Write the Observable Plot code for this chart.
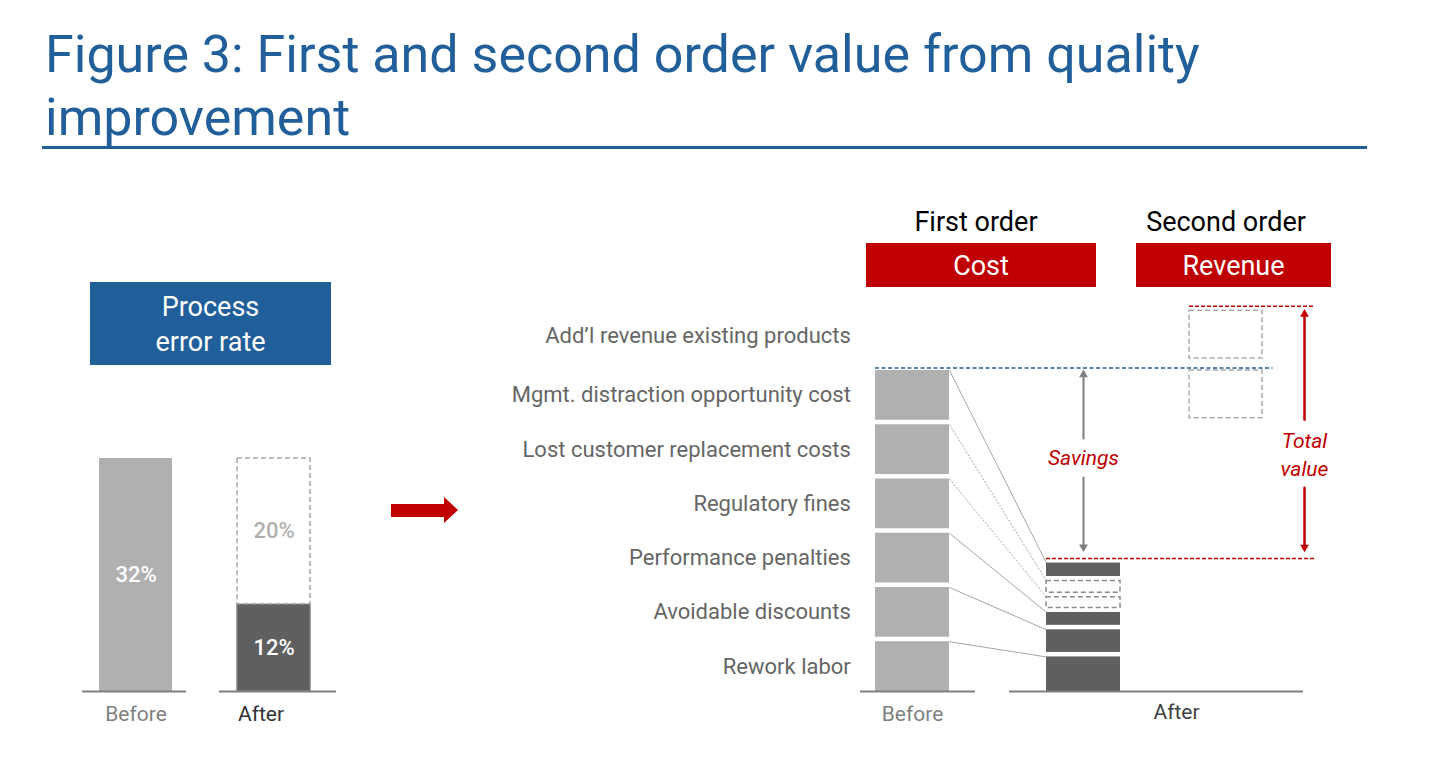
<!DOCTYPE html>
<html><head><meta charset="utf-8">
<script src="https://cdn.jsdelivr.net/npm/d3@7"></script>
<script src="https://cdn.jsdelivr.net/npm/@observablehq/plot@0.6"></script>
<style>
html,body{margin:0;padding:0;background:#fff;}
#page{position:relative;width:1442px;height:764px;overflow:hidden;font-family:Roboto,"Noto Sans",sans-serif;}
.abs{position:absolute;}
#title{left:45px;top:24px;color:#215F9A;font-size:50px;line-height:63px;font-weight:400;white-space:nowrap;}
#rule{left:42px;top:146px;width:1325px;height:3px;background:#215F9A;}
.box{display:flex;align-items:center;justify-content:center;text-align:center;color:#fff;font-size:27px;}
#errbox{left:90px;top:282px;width:241px;height:83px;background:#215F9A;line-height:35px;padding-top:3px;box-sizing:border-box;}
#costbox{left:866px;top:243px;width:230px;height:44px;background:#C00000;padding-top:1px;box-sizing:border-box;}
#revbox{left:1136px;top:243px;width:195px;height:44px;background:#C00000;padding-top:1px;box-sizing:border-box;}
.hdr{font-size:27px;color:#000;text-align:center;line-height:30px;}
#first{left:866px;width:220px;top:207px;}
#second{left:1121px;width:210px;top:207px;}
#arrowShaft{left:391px;top:504px;width:54px;height:13px;background:#C00000;}
#arrowHead{left:444px;top:497px;width:0;height:0;border-left:14px solid #C00000;border-top:13.5px solid transparent;border-bottom:13.5px solid transparent;}
#leftChart{left:0;top:160px;}
#rightChart{left:480px;top:160px;}
</style></head>
<body>
<div id="page">
  <div id="title" class="abs">Figure 3: First and second order value from quality<br>improvement</div>
  <div id="rule" class="abs"></div>
  <div id="errbox" class="abs box">Process<br>error rate</div>
  <div id="first" class="abs hdr">First order</div>
  <div id="second" class="abs hdr">Second order</div>
  <div id="costbox" class="abs box">Cost</div>
  <div id="revbox" class="abs box">Revenue</div>
  <div id="arrowShaft" class="abs"></div>
  <div id="arrowHead" class="abs"></div>
  <div id="leftChart" class="abs"></div>
  <div id="rightChart" class="abs"></div>
</div>
<script>
// ---------- Data ----------
// Left panel: process error rate
const errorPeriods = ["Before", "After"];
const errorRowPeriod = ["Before", "After", "After"];
const errorRowPart = ["Error rate", "Remaining", "Eliminated"];
const errorRowValue = [32, 12, 20];

// Right panel: first order cost items (bottom to top) and second order revenue
const costItems = ["Rework labor", "Avoidable discounts", "Performance penalties", "Regulatory fines", "Lost customer replacement costs", "Mgmt. distraction opportunity cost"];
const costBefore = [100, 100, 100, 100, 100, 100];
const costAfter = [72, 50, 32, 28, 30, 33];
const costAfterStatus = ["remaining", "remaining", "remaining", "eliminated", "eliminated", "remaining"];
const revenueItems = ["Mgmt. distraction opportunity cost", "Add\u2019l revenue existing products"];
const revenueFrom = [500, 610];
const revenueTo = [600, 710];

const FONT = "Roboto, 'Noto Sans', sans-serif";
const RED = "#C00000", BLUE = "#215F9A";

// ---------- Title fit ----------
(function fitTitle() {
  const c = document.createElement("canvas").getContext("2d");
  c.font = "400 100px Roboto";
  const w = c.measureText("Figure 3: First and second order value from quality").width;
  const F = 100 * 1155 / w;
  const el = document.getElementById("title");
  el.style.fontSize = F + "px";
  el.style.top = (72 - ((63 - 1.172 * F) / 2 + 0.928 * F)) + "px";
})();

// ---------- Left chart ----------
const errTable = errorRowPeriod.map((p, i) => ({period: p, part: errorRowPart[i], value: errorRowValue[i]}));
{
  const acc = {};
  for (const d of errTable) { d.y1 = acc[d.period] || 0; d.y2 = d.y1 + d.value; acc[d.period] = d.y2; }
}
const left = Plot.plot({
  width: 480, height: 604, margin: 0,
  style: {background: "transparent", overflow: "visible", fontFamily: FONT},
  x: {type: "band", domain: errorPeriods, range: [33, 376], padding: 0.468, axis: null},
  y: {domain: [0, 32], range: [531, 298], axis: null},
  marks: [
    Plot.barY(errTable.filter(d => d.part === "Error rate"), {x: "period", y1: "y1", y2: "y2", fill: "#B0B0B0"}),
    Plot.barY(errTable.filter(d => d.part === "Remaining"), {x: "period", y1: "y1", y2: "y2", fill: "#5F5F5F", stroke: "#7F7F7F", strokeWidth: 1.5}),
    Plot.barY(errTable.filter(d => d.part === "Eliminated"), {x: "period", y1: "y1", y2: "y2", fill: "white", stroke: "#A6A6A6", strokeWidth: 1.5, strokeDasharray: "5,3"}),
    Plot.text(errTable.filter(d => d.part !== "Eliminated"), {x: "period", y: d => (d.y1 + d.y2) / 2, text: d => d.value + "%", fill: "white", fontSize: 22, fontWeight: 500}),
    Plot.text(errTable.filter(d => d.part === "Eliminated"), {x: "period", y: d => (d.y1 + d.y2) / 2, text: d => d.value + "%", fill: "#B0B0B0", fontSize: 22, fontWeight: 500}),
    Plot.tickY([{period: "Before", y: 0}], {x: "period", y: "y", insetLeft: -17, insetRight: -14, stroke: "#808080", strokeWidth: 2}),
    Plot.tickY([{period: "After", y: 0}], {x: "period", y: "y", insetLeft: -18, insetRight: -26, stroke: "#808080", strokeWidth: 2}),
    Plot.text(["Before"], {x: d => d, y: () => 0, dy: 23, text: d => d, fill: "#7F7F7F", fontSize: 21}),
    Plot.text(["After"], {x: d => d, y: () => 0, dy: 23, dx: -13, text: d => d, fill: "#333333", fontSize: 21})
  ]
});
document.getElementById("leftChart").appendChild(left);

// ---------- Right chart ----------
const beforeCum = d3.cumsum(costBefore), afterCum = d3.cumsum(costAfter);
const costTable = costItems.map((item, i) => ({
  item,
  b1: beforeCum[i] - costBefore[i], b2: beforeCum[i],
  a1: afterCum[i] - costAfter[i], a2: afterCum[i],
  status: costAfterStatus[i]
}));
const revTable = revenueItems.map((item, i) => ({item, y1: revenueFrom[i], y2: revenueTo[i]}));
const beforeTotal = d3.sum(costBefore);
const afterTotal = d3.sum(costAfter);
const totalValue = d3.max(revenueTo);
const labelTable = [
  ...costTable.map(d => ({item: d.item, y: (d.b1 + d.b2) / 2})),
  ...revTable.filter(d => !costItems.includes(d.item)).map(d => ({item: d.item, y: (d.y1 + d.y2) / 2}))
];
const savingsAnchor = afterTotal + 0.52 * (beforeTotal - afterTotal);
const totalAnchor = afterTotal + 0.42 * (totalValue - afterTotal);

// column layout: Before = 0, After = 1, Revenue = 2 (half width 0.3); total-value arrow at 2.7
const HW = 0.3, TOT = 2.7;
const OFF = 480;
const right = Plot.plot({
  width: 962, height: 604, margin: 0,
  style: {background: "transparent", overflow: "visible", fontFamily: FONT},
  x: {type: "linear", domain: [-HW, HW, 1 - HW, 1 + HW, 2 - HW, 2 + HW, TOT], range: [875, 949, 1046, 1120, 1189, 1262, 1304].map(v => v - OFF), axis: null},
  y: {domain: [0, 710], range: [531, 531 - 710 * 0.5425], axis: null},
  marks: [
    // connectors
    Plot.link(costTable.filter(d => d.status === "remaining"), {x1: HW, x2: 1 - HW, y1: "b2", y2: "a2", dy: 4.5, stroke: "#A6A6A6", strokeWidth: 1}),
    Plot.link(costTable.filter(d => d.status === "eliminated"), {x1: HW, x2: 1 - HW, y1: "b2", y2: "a2", dy: 4.5, stroke: "#A6A6A6", strokeWidth: 1, strokeDasharray: "2,1.5"}),
    // before stack
    Plot.rectY(costTable, {x1: -HW, x2: HW, y1: "b1", y2: "b2", insetTop: 4.5, fill: "#B0B0B0"}),
    // after stack
    Plot.rectY(costTable.filter(d => d.status === "remaining"), {x1: 1 - HW, x2: 1 + HW, y1: "a1", y2: "a2", insetTop: 4.5, fill: "#5F5F5F"}),
    Plot.rectY(costTable.filter(d => d.status === "eliminated"), {x1: 1 - HW, x2: 1 + HW, y1: "a1", y2: "a2", insetTop: 4.5, fill: "white", stroke: "#8C8C8C", strokeWidth: 1.5, strokeDasharray: "5,3"}),
    // revenue boxes
    Plot.rectY(revTable, {x1: 2 - HW, x2: 2 + HW, y1: "y1", y2: "y2", insetTop: 4.5, insetBottom: 2, fill: "none", stroke: "#ABABAB", strokeWidth: 1.5, strokeDasharray: "5,3"}),
    // category labels
    Plot.text(labelTable, {x: -0.5, y: "y", dy: 2.25, text: "item", textAnchor: "end", fill: "#666666", fontSize: 22}),
    // reference lines
    Plot.ruleY([beforeTotal], {x1: -HW, x2: 2.4, dy: 2, stroke: BLUE, strokeWidth: 1.5, strokeDasharray: "4,2.5"}),
    Plot.ruleY([totalValue], {x1: 2 - HW, x2: 2.8, stroke: RED, strokeWidth: 1.5, strokeDasharray: "4,2"}),
    Plot.ruleY([afterTotal], {x1: 1 - HW, x2: 2.8, stroke: RED, strokeWidth: 1.5, strokeDasharray: "4,2"}),
    // savings arrow
    Plot.arrow([{a: savingsAnchor, b: beforeTotal}], {x1: 1, x2: 1, y1: "a", y2: "b", insetStart: 20, insetEnd: 9, headLength: 0, stroke: "#7F7F7F", strokeWidth: 2}),
    Plot.arrow([{a: savingsAnchor, b: afterTotal}], {x1: 1, x2: 1, y1: "a", y2: "b", insetStart: 19, insetEnd: 13, headLength: 0, stroke: "#7F7F7F", strokeWidth: 2}),
    Plot.dot([beforeTotal], {x: 1, y: d => d, symbol: "triangle2", r: 4.2, fill: "#7F7F7F", dy: 8.6}),
    Plot.dot([afterTotal], {x: 1, y: d => d, symbol: "triangle2", r: 4.2, fill: "#7F7F7F", rotate: 180, dy: -11.6}),
    Plot.text([savingsAnchor], {x: 1, y: d => d, text: () => "Savings", fill: RED, fontStyle: "italic", fontSize: 21}),
    // total value arrow
    Plot.arrow([{a: totalAnchor, b: totalValue}], {x1: TOT, x2: TOT, y1: "a", y2: "b", insetStart: 33, insetEnd: 10, headLength: 0, stroke: RED, strokeWidth: 2.5}),
    Plot.arrow([{a: totalAnchor, b: afterTotal}], {x1: TOT, x2: TOT, y1: "a", y2: "b", insetStart: 35, insetEnd: 13, headLength: 0, stroke: RED, strokeWidth: 2.5}),
    Plot.dot([totalValue], {x: TOT, y: d => d, symbol: "triangle2", r: 4.2, fill: RED, dy: 7.8}),
    Plot.dot([afterTotal], {x: TOT, y: d => d, symbol: "triangle2", r: 4.2, fill: RED, rotate: 180, dy: -11.4}),
    Plot.text([totalAnchor], {x: TOT, y: d => d, text: () => "Total\nvalue", lineHeight: 1.35, fill: RED, fontStyle: "italic", fontSize: 21}),
    // baselines
    Plot.ruleY([0], {x1: -HW, x2: HW, insetLeft: -15, insetRight: -26, stroke: "#808080", strokeWidth: 2}),
    Plot.ruleY([0], {x1: 1 - HW, x2: TOT, insetLeft: -37, insetRight: 1, stroke: "#808080", strokeWidth: 2}),
    // axis labels
    Plot.text(["Before"], {x: 0, y: () => 0, dy: 23, text: d => d, fill: "#7F7F7F", fontSize: 21}),
    Plot.text(["After"], {x: 1, y: () => 0, dy: 21, dx: 93, text: d => d, fill: "#404040", fontSize: 21})
  ]
});
document.getElementById("rightChart").appendChild(right);
</script>
</body></html>
